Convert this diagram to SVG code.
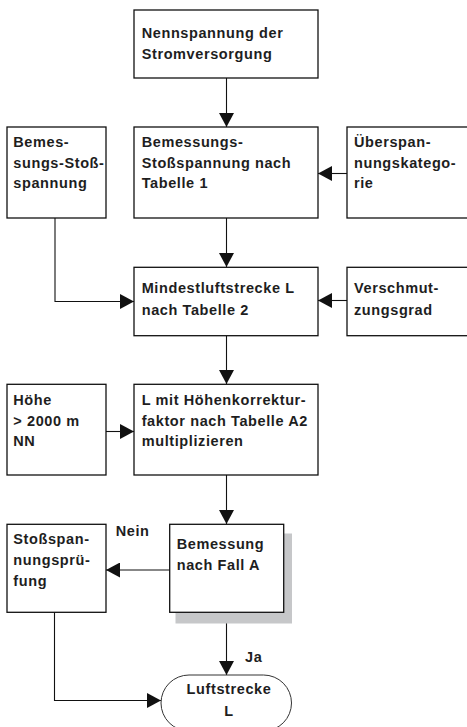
<svg xmlns="http://www.w3.org/2000/svg" width="467" height="727" viewBox="0 0 467 727">
<style>
.box{fill:#fff;stroke:#111;stroke-width:1.3}
.t{font-family:"Liberation Sans",Arial,Helvetica,sans-serif;font-weight:bold;font-size:14.5px;letter-spacing:0.6px;fill:#1e1e1e}
.c{fill:none;stroke:#111;stroke-width:1.1}
.sh{fill:#c6c7c9}
.term{fill:#fff;stroke:#333;stroke-width:1}
</style>
<defs>
<marker id="ah" viewBox="0 0 14 15" refX="14" refY="7.5" markerWidth="14" markerHeight="15" markerUnits="userSpaceOnUse" orient="auto">
<path d="M0,0 L14,7.5 L0,15 Z" fill="#111"/>
</marker>
</defs>
<rect width="467" height="727" fill="#fff"/>
<g id="connectors">
<path class="c" d="M226.5,78 V127" marker-end="url(#ah)"/>
<path class="c" d="M347,173.5 H318" marker-end="url(#ah)"/>
<path class="c" d="M55,218 V301.5 H134" marker-end="url(#ah)"/>
<path class="c" d="M226.5,218 V267" marker-end="url(#ah)"/>
<path class="c" d="M347,300.5 H318" marker-end="url(#ah)"/>
<path class="c" d="M226.5,336 V384" marker-end="url(#ah)"/>
<path class="c" d="M106,431.5 H134" marker-end="url(#ah)"/>
<path class="c" d="M226.5,475 V524" marker-end="url(#ah)"/>
<path class="c" d="M170,570 H106" marker-end="url(#ah)"/>
<path class="c" d="M226.5,612 V675" marker-end="url(#ah)"/>
<path class="c" d="M54.5,612 V700.5 H161" marker-end="url(#ah)"/>
</g>
<g id="n1">
<rect class="box" x="134" y="10" width="184" height="68"/>
<text class="t" x="141.7" y="37.5">Nennspannung der</text>
<text class="t" x="141.7" y="59">Stromversorgung</text>
</g>
<g id="n2">
<rect class="box" x="7" y="127" width="99" height="91"/>
<text class="t" x="13.3" y="147">Bemes-</text>
<text class="t" x="13.3" y="167.5">sungs-Stoß-</text>
<text class="t" x="13.3" y="188">spannung</text>
</g>
<g id="n3">
<rect class="box" x="134" y="127" width="184" height="91"/>
<text class="t" x="141.7" y="147">Bemessungs-</text>
<text class="t" x="141.7" y="167.5">Stoßspannung nach</text>
<text class="t" x="141.7" y="188">Tabelle 1</text>
</g>
<g id="n4">
<rect class="box" x="347" y="127" width="130" height="91"/>
<text class="t" x="354" y="147">Überspan-</text>
<text class="t" x="354" y="167.5">nungskatego-</text>
<text class="t" x="354" y="188">rie</text>
</g>
<g id="n5">
<rect class="box" x="134" y="267.3" width="184" height="68.4"/>
<text class="t" x="141.7" y="293.3">Mindestluftstrecke L</text>
<text class="t" x="141.7" y="315">nach Tabelle 2</text>
</g>
<g id="n6">
<rect class="box" x="347" y="267.3" width="130" height="68.4"/>
<text class="t" x="354" y="293.3">Verschmut-</text>
<text class="t" x="354" y="315">zungsgrad</text>
</g>
<g id="n7">
<rect class="box" x="7" y="384.3" width="99" height="90.7"/>
<text class="t" x="13.3" y="405">Höhe</text>
<text class="t" x="13.3" y="426">&gt; 2000 m</text>
<text class="t" x="13.3" y="446">NN</text>
</g>
<g id="n8">
<rect class="box" x="134" y="384.3" width="184" height="90.7"/>
<text class="t" x="141.7" y="405">L mit Höhenkorrektur-</text>
<text class="t" x="141.7" y="426">faktor nach Tabelle A2</text>
<text class="t" x="141.7" y="446">multiplizieren</text>
</g>
<g id="n9">
<rect class="box" x="7" y="524.3" width="99" height="88"/>
<text class="t" x="13.3" y="544">Stoßspan-</text>
<text class="t" x="13.3" y="565">nungsprü-</text>
<text class="t" x="13.3" y="585.7">fung</text>
</g>
<g id="n10">
<rect class="sh" x="175.5" y="533.5" width="116.5" height="90"/>
<rect class="box" x="169.7" y="524.3" width="114" height="88"/>
<text class="t" x="176.7" y="549.3">Bemessung</text>
<text class="t" x="176.7" y="569.5">nach Fall A</text>
</g>
<g id="labels">
<text class="t" x="115.7" y="536">Nein</text>
<text class="t" x="245" y="661.7">Ja</text>
</g>
<g id="n11">
<rect class="term" x="161" y="675" width="130.5" height="56" rx="28" ry="28"/>
<text class="t" x="229" y="694" text-anchor="middle">Luftstrecke</text>
<text class="t" x="229" y="715.7" text-anchor="middle">L</text>
</g>
</svg>
